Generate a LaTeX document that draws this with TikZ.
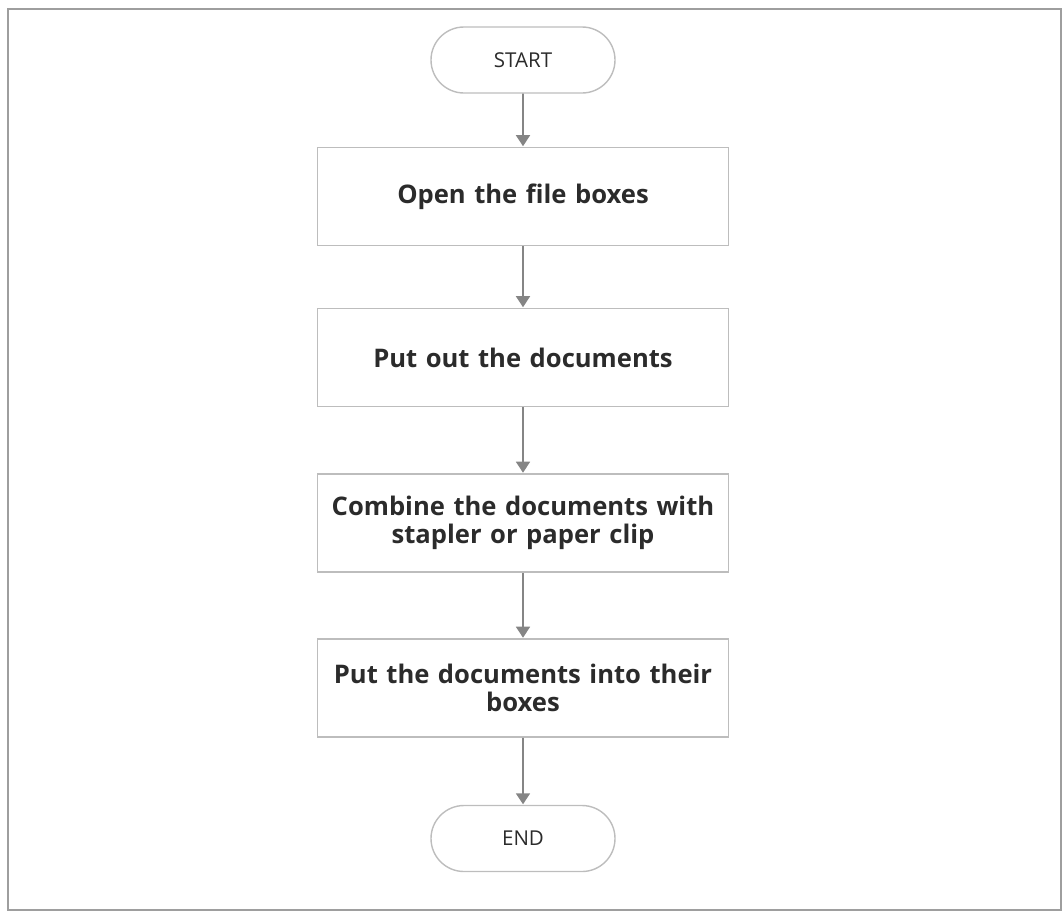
\documentclass[tikz,border=0pt]{standalone}
\usepackage{fontspec}
\setmainfont{Open Sans}
\usetikzlibrary{arrows.meta,shapes.misc}
\definecolor{boxline}{HTML}{BDBDBD}
\definecolor{arrowline}{HTML}{858585}
\definecolor{frameline}{HTML}{9E9E9E}
\definecolor{txt}{HTML}{2B2B2B}
\tikzset{
  terminal/.style={rounded rectangle, draw=boxline, line width=1.4pt,
    minimum width=184pt, minimum height=66pt, inner sep=0pt,
    font=\fontsize{20.5}{24}\selectfont, text=txt},
  stepbox/.style={rectangle, draw=boxline, line width=1.6pt,
    minimum width=411pt, minimum height=98pt, inner sep=0pt,
    text width=405pt, align=center,
    font=\bfseries\fontsize{25.6}{28}\selectfont, text=txt},
  flow/.style={draw=arrowline, line width=1.8pt,
    -{Triangle[width=14pt,length=11pt]}, shorten >=0.5pt}
}
\begin{document}
\begin{tikzpicture}[x=1pt,y=-1pt]
  \useasboundingbox (0,0) rectangle (1064,913);
  \draw[frameline, line width=1.8pt] (8,9) rectangle (1061,910);

  \node[terminal] (start) at (523,60) {START};
  \node[stepbox] (open) at (523,196.5) {Open the file boxes};
  \node[stepbox] (out) at (523,357.5) {Put out the documents};
  \node[stepbox] (combine) at (523,523) {Combine the documents with\\stapler or paper clip};
  \node[stepbox] (into) at (523,688) {Put the documents into their\\boxes};
  \node[terminal] (end) at (523,838.5) {END};

  \draw[flow] (start) -- (open);
  \draw[flow] (open) -- (out);
  \draw[flow] (out) -- (combine);
  \draw[flow] (combine) -- (into);
  \draw[flow] (into) -- (end);
\end{tikzpicture}
\end{document}
